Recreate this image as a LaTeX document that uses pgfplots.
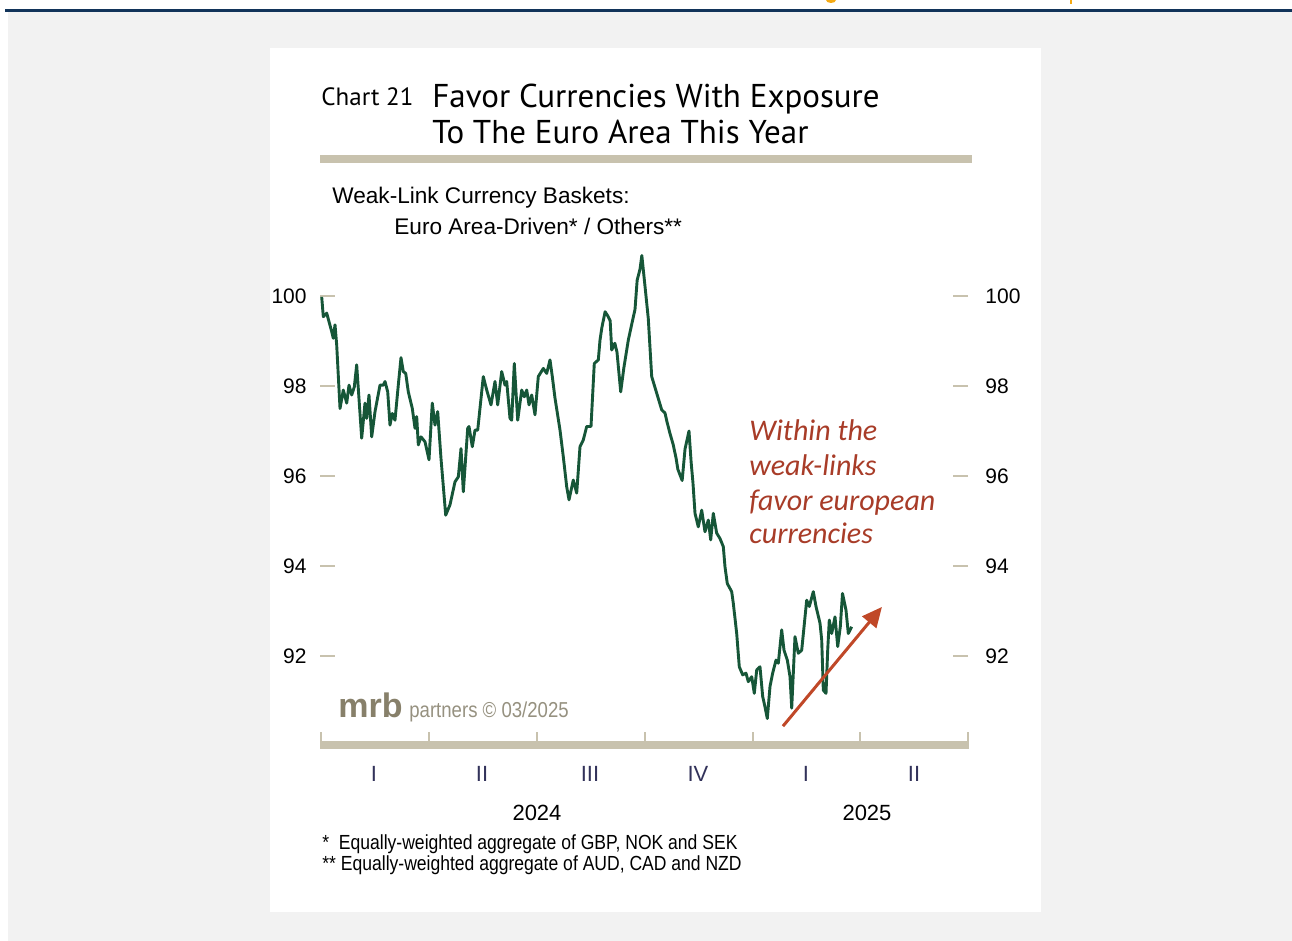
\documentclass[border=0pt]{standalone}
\usepackage{pgfplots}
\pgfplotsset{compat=1.18}
\usepackage{fontspec}
\usetikzlibrary{arrows.meta}
\setmainfont{Liberation Sans}
\newfontfamily\titlefont{PT Sans}
\newfontfamily\narrowfont[FakeStretch=0.86]{Liberation Sans}
\newfontfamily\annofont{Carlito}
\definecolor{bggray}{RGB}{242,242,242}
\definecolor{navy}{RGB}{18,52,90}
\definecolor{tancol}{RGB}{200,194,174}
\definecolor{linegreen}{RGB}{22,86,56}
\definecolor{annored}{RGB}{168,60,40}
\definecolor{arrowred}{RGB}{192,72,40}
\definecolor{logocol}{RGB}{135,128,106}
\definecolor{logocol2}{RGB}{150,145,128}
\definecolor{qcol}{RGB}{50,50,90}
\definecolor{topor}{RGB}{245,170,20}
\pgfplotstableread{
x y
0.047 99.98
0.092 99.54
0.186 99.62
0.25 99.43
0.325 99.21
0.369 99.06
0.417 99.36
0.464 98.91
0.556 97.5
0.647 97.91
0.742 97.62
0.806 98.02
0.881 97.8
0.953 97.98
1.019 98.47
1.158 96.84
1.25 97.62
1.297 97.28
1.361 97.8
1.436 96.87
1.528 97.43
1.667 98.02
1.758 98.02
1.806 98.1
1.881 97.87
1.944 97.13
2.008 97.39
2.083 97.24
2.175 98.02
2.25 98.63
2.314 98.32
2.381 98.28
2.453 97.87
2.564 97.5
2.639 97.06
2.686 97.32
2.731 96.69
2.806 96.87
2.917 96.76
3.028 96.36
3.119 97.62
3.194 97.13
3.269 97.43
3.361 96.39
3.492 95.13
3.611 95.36
3.75 95.87
3.842 95.98
3.917 96.61
3.981 95.65
4.103 97.06
4.139 97.1
4.231 96.65
4.306 97.02
4.381 97.02
4.536 98.21
4.631 97.91
4.75 97.58
4.861 98.1
4.936 97.58
5.047 98.32
5.139 98.02
5.186 98.1
5.278 97.28
5.325 97.24
5.397 98.5
5.492 97.24
5.603 97.91
5.675 97.76
5.742 97.91
5.806 97.58
5.881 97.8
5.972 97.36
6.064 98.21
6.203 98.39
6.297 98.28
6.389 98.58
6.453 98.21
6.528 97.73
6.667 97.02
6.758 96.43
6.853 95.76
6.917 95.47
7.036 95.91
7.131 95.62
7.222 96.65
7.314 96.8
7.408 97.1
7.528 97.1
7.619 98.5
7.731 98.58
7.778 99.02
7.83 99.3
7.92 99.65
8.0 99.55
8.06 99.45
8.103 98.8
8.19 98.95
8.25 98.75
8.353 97.87
8.44 98.4
8.564 99.02
8.667 99.4
8.75 99.7
8.81 100.35
8.89 100.6
8.94 100.9
9.03 100.2
9.119 99.5
9.214 98.21
9.353 97.84
9.492 97.47
9.583 97.4
9.64 97.2
9.72 96.95
9.81 96.7
9.89 96.4
9.94 96.15
10.06 95.9
10.14 96.6
10.25 97.0
10.31 96.3
10.36 95.85
10.417 95.17
10.508 94.87
10.603 95.24
10.694 94.76
10.786 95.02
10.853 94.58
10.925 95.17
11.019 94.73
11.111 94.61
11.203 94.43
11.25 93.98
11.314 93.61
11.436 93.43
11.481 93.17
11.575 92.5
11.647 91.76
11.742 91.58
11.833 91.62
11.897 91.43
11.992 91.54
12.064 91.17
12.131 91.69
12.222 91.76
12.297 91.1
12.361 90.87
12.425 90.61
12.5 91.32
12.575 91.62
12.667 91.91
12.731 91.84
12.825 92.58
12.889 92.13
12.981 91.91
13.056 91.54
13.103 90.84
13.194 92.43
13.286 92.06
13.381 92.13
13.519 93.24
13.592 93.1
13.703 93.43
13.778 93.1
13.889 92.73
13.936 92.36
13.981 91.24
14.056 91.17
14.103 92.13
14.147 92.8
14.214 92.5
14.306 92.87
14.381 92.21
14.453 92.65
14.514 93.39
14.611 93.02
14.675 92.5
14.769 92.65
}\basket
\begin{document}
\begin{tikzpicture}
\begin{scope}[x=0.5pt,y=-0.5pt]
\fill[white] (0,0) rectangle (1292,941);
\fill[bggray] (8,12) rectangle (1292,941);
\fill[navy] (5,9) rectangle (1292,12.5);
\fill[topor] (826,0) arc[start angle=180, end angle=0, x radius=5, y radius=3] -- cycle;
\fill[topor] (1069.5,0) rectangle (1071.5,4);
\fill[white] (270,48) rectangle (1041,912);
\fill[tancol] (320,155) rectangle (972,163);
% bottom bar and quarter ticks
\fill[tancol] (320,741) rectangle (969,749);
\foreach \xx in {321,429,537,645,753,860,968}
  \draw[tancol, line width=1pt] (\xx,745) -- (\xx,732);
% titles
\node[anchor=base west, inner sep=0pt, font=\titlefont\fontsize{12.5}{14}\selectfont] at (321,106) {Chart 21};
\node[anchor=base west, inner sep=0pt, font=\titlefont\fontsize{16.5}{19}\selectfont] at (432,108) {Favor Currencies With Exposure};
\node[anchor=base west, inner sep=0pt, font=\titlefont\fontsize{16.5}{19}\selectfont] at (432,144) {To The Euro Area This Year};
\node[anchor=base west, inner sep=0pt, font=\fontsize{11.3}{13}\selectfont] at (332,204) {Weak-Link Currency Baskets:};
\node[anchor=base west, inner sep=0pt, font=\fontsize{11.3}{13}\selectfont] at (394,235) {Euro Area-Driven* / Others**};
% annotation
\node[anchor=base west, inner sep=0pt, text=annored, font=\annofont\itshape\fontsize{15}{18}\selectfont] at (749,441) {Within the};
\node[anchor=base west, inner sep=0pt, text=annored, font=\annofont\itshape\fontsize{15}{18}\selectfont] at (749,475) {weak-links};
\node[anchor=base west, inner sep=0pt, text=annored, font=\annofont\itshape\fontsize{15}{18}\selectfont] at (749,510) {favor european};
\node[anchor=base west, inner sep=0pt, text=annored, font=\annofont\itshape\fontsize{15}{18}\selectfont] at (749,544) {currencies};
% logo
\node[anchor=base west, inner sep=0pt, text=logocol, font=\bfseries\fontsize{17}{19}\selectfont] at (338,717) {mrb};
\node[anchor=base west, inner sep=0pt, text=logocol2, font=\narrowfont\fontsize{10.8}{12}\selectfont] at (409,717) {partners \textcopyright\ 03/2025};
% years
\node[anchor=base, inner sep=0pt, font=\fontsize{11}{13}\selectfont] at (537,820) {2024};
\node[anchor=base, inner sep=0pt, font=\fontsize{11}{13}\selectfont] at (867,820) {2025};
% footnotes
\node[anchor=base west, inner sep=0pt, font=\narrowfont\fontsize{10.2}{12}\selectfont] at (322,849) {*\ \ Equally-weighted aggregate of GBP, NOK and SEK};
\node[anchor=base west, inner sep=0pt, font=\narrowfont\fontsize{10.2}{12}\selectfont] at (322,870) {**\ Equally-weighted aggregate of AUD, CAD and NZD};
\end{scope}
\begin{axis}[
  at={(160pt,-372.5pt)}, anchor=south west,
  scale only axis, width=324pt, height=258.25pt,
  xmin=0, xmax=18, ymin=90.022, ymax=101.5,
  clip=false,
  axis line style={draw=none},
  /pgf/number format/assume math mode=true,
  xtick={1.5,4.5,7.5,10.5,13.5,16.5},
  xticklabels={I,II,III,IV,I,II},
  xtick style={draw=none},
  x tick label style={font=\fontsize{11}{13}\selectfont, text=qcol, anchor=base, inner sep=0pt, yshift=-18pt},
  ytick={92,94,96,98,100},
  ytick pos=both, tick align=inside,
  major tick length=7.5pt,
  y tick style={draw=tancol, line width=1pt},
  yticklabel pos=left,
  y tick label style={font=\fontsize{10.5}{12}\selectfont, inner sep=0pt, xshift=-6.5pt},
]
\addplot[linegreen, line width=1.45pt, line join=round] table[x=x,y=y] {\basket};
\draw[arrowred, line width=1.5pt, -{Triangle[length=10pt,width=9pt]}] (axis cs:12.86,90.44) -- (axis cs:15.61,93.09);
\end{axis}
\begin{axis}[
  at={(160pt,-372.5pt)}, anchor=south west,
  scale only axis, width=324pt, height=258.25pt,
  xmin=0, xmax=18, ymin=90.022, ymax=101.5,
  axis line style={draw=none},
  /pgf/number format/assume math mode=true,
  xtick=\empty,
  ytick={92,94,96,98,100},
  ytick style={draw=none},
  yticklabel pos=right,
  y tick label style={font=\fontsize{10.5}{12}\selectfont, inner sep=0pt, xshift=8.5pt, anchor=west},
]
\end{axis}
\end{tikzpicture}
\end{document}
